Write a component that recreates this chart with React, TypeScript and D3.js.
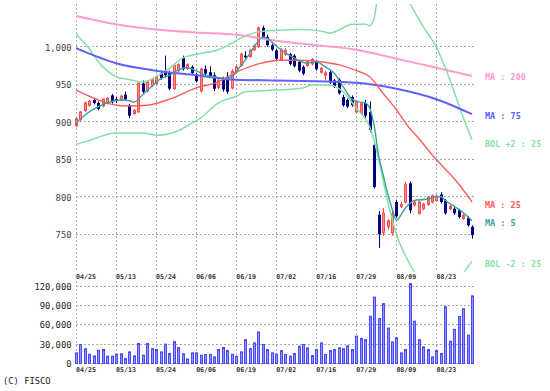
import React from 'react';
import * as d3 from 'd3';

// tick labels
const dateLabels = ['04/25', '05/13', '05/24', '06/06', '06/19', '07/02', '07/16', '07/29', '08/09', '08/23'];
const priceTicks = [750, 800, 850, 900, 950, 1000];
const volumeTicks = [0, 30000, 60000, 90000, 120000];

// daily candles (90 sessions)
const opens = [
  895, 903, 915, 922, 929, 925, 921, 925, 935, 930, 929, 936, 922, 911, 913, 951, 941, 948, 951, 965,
  968, 966, 944, 968, 985, 971, 973, 963, 941, 970, 966, 962, 946, 957, 960, 945, 966, 975, 988, 987,
  996, 1000, 1025, 1013, 1002, 995, 983, 990, 990, 988, 980, 973, 975, 977, 980, 966, 962, 966, 955, 956,
  933, 929, 933, 913, 911, 925, 913, 869, 776, 752, 760, 752, 793, 787, 793, 818, 789, 778, 784, 790,
  793, 795, 803, 795, 784, 784, 782, 771, 772, 760,
];
const highs = [
  906, 914, 927, 929, 931, 927, 931, 933, 937, 933, 936, 940, 924, 917, 953, 955, 955, 958, 962, 968,
  988, 968, 977, 978, 988, 978, 975, 965, 972, 975, 974, 966, 958, 960, 966, 970, 975, 992, 994, 997,
  1003, 1027, 1028, 1016, 1004, 997, 998, 998, 992, 990, 982, 975, 981, 985, 982, 973, 968, 968, 957, 958,
  936, 931, 935, 929, 926, 929, 927, 872, 781, 785, 770, 782, 796, 793, 820, 820, 795, 795, 792, 801,
  803, 803, 806, 797, 789, 786, 784, 778, 774, 762,
];
const lows = [
  893, 900, 913, 920, 923, 915, 919, 923, 924, 925, 927, 928, 905, 909, 912, 938, 939, 946, 949, 956,
  960, 942, 943, 966, 968, 969, 962, 952, 939, 962, 958, 941, 943, 940, 937, 943, 964, 973, 984, 985,
  994, 998, 1010, 1000, 994, 982, 981, 988, 975, 972, 966, 962, 973, 975, 968, 964, 955, 950, 945, 936,
  920, 918, 920, 911, 909, 905, 886, 811, 732, 748, 756, 748, 772, 785, 791, 778, 787, 776, 782, 788,
  791, 793, 791, 776, 782, 776, 771, 769, 760, 744,
];
const closes = [
  904, 913, 925, 927, 925, 917, 930, 931, 926, 928, 934, 930, 908, 915, 951, 940, 953, 956, 960, 958,
  962, 944, 975, 976, 970, 976, 965, 954, 970, 964, 960, 944, 955, 943, 940, 967, 973, 990, 986, 995,
  1001, 1025, 1012, 1002, 996, 984, 996, 995, 977, 974, 968, 964, 980, 983, 970, 971, 965, 952, 947, 938,
  922, 920, 922, 927, 924, 908, 889, 813, 750, 778, 768, 777, 774, 790, 816, 782, 793, 793, 790, 799,
  801, 801, 793, 778, 787, 778, 773, 775, 762, 749,
];
const volumes = [
  16500, 29500, 23000, 14400, 11800, 20600, 21700, 11300, 11300, 14400, 15000, 7700, 18000, 11800, 31000,
  12900, 31000, 23000, 21700, 18000, 30000, 15500, 34000, 24800, 15000, 7000, 16500, 16500, 12900, 14000,
  14000, 10200, 21700, 24800, 20000, 14400, 11300, 18000, 37000, 23000, 32000, 49000, 29500, 21700, 16500,
  14400, 20000, 14000, 11300, 15500, 26900, 29500, 24300, 12400, 21700, 32000, 14000, 20000, 21700, 24300,
  23000, 27400, 21700, 42400, 38800, 37000, 73400, 103000, 70000, 93000, 55000, 33500, 40000, 16500, 21700,
  124000, 65600, 37000, 25800, 21700, 10200, 20000, 15500, 88000, 34600, 53000, 73000, 85000, 44000, 105000,
];

// indicator lines, read at sample sessions
const ma200Idx = [0, 9, 18, 27, 36, 45, 54, 63, 72, 81, 89];
const ma200Val = [1041, 1030, 1023, 1019, 1016, 1008, 1002, 996, 984, 972, 961];

const ma75Idx = [0, 9, 18, 27, 36, 45, 54, 63, 72, 81, 89];
const ma75Val = [998, 978, 968, 962, 956, 955, 954, 952, 944, 930, 910];

const ma25Idx = [0, 5, 9, 12, 16, 21, 27, 32, 36, 41, 46, 50, 55, 59, 63, 66, 69, 72, 75, 77, 80, 82, 86, 89];
const ma25Val = [942, 929, 922, 921, 922, 930, 945, 953, 966, 977, 982, 982, 980, 976, 968, 960, 938, 916, 891, 878, 856, 843, 817, 793];

const ma5Idx = [0, 2, 5, 8, 10, 12, 13, 15, 17, 19, 21, 23, 25, 27, 29, 31, 34, 35, 37, 39, 41, 42, 43, 45, 47, 49,
  52, 54, 56, 58, 60, 62, 64, 65, 66, 67, 68, 69, 70, 71, 72, 74, 76, 79, 81, 82, 83, 85, 87, 89];
const ma5Val = [898, 909, 920, 927, 929, 928, 926, 936, 947, 957, 962, 969, 972, 968, 962, 960, 958, 960, 974, 990,
  1008, 1013, 1011, 1001, 992, 985, 978, 980, 973, 965, 947, 930, 926, 925, 918, 895, 855, 830, 805, 785, 769,
  785, 795, 797, 800, 800, 795, 787, 779, 768];

const bolUpIdx = [0, 3, 5, 7, 9, 12, 15, 18, 21, 24, 27, 32, 38, 41, 46, 50, 55, 57, 59, 62, 65, 66, 67, 68, 69, 71,
  73, 75, 78, 81, 84, 87, 89];
const bolUpVal = [1017, 997, 980, 968, 960, 956, 953, 960, 971, 985, 990, 996, 1014, 1020, 1022, 1023, 1021, 1018,
  1022, 1030, 1030, 1028, 1038, 1075, 1088, 1095, 1080, 1058, 1027, 999, 956, 906, 876];

const bolLoIdx = [0, 3, 9, 15, 18, 21, 23, 26, 28, 32, 36, 38, 44, 51, 53, 57, 60, 63, 66, 67, 68, 70, 72, 74, 76,
  79, 83, 86, 88, 89];
const bolLoVal = [870, 875, 885, 885, 882, 884, 888, 898, 905, 925, 934, 940, 942, 945, 949, 949, 940, 918, 893, 875,
  850, 795, 750, 722, 700, 680, 672, 688, 706, 714];

const W = 550;
const H = 391;
const FONT = '"DejaVu Sans Mono", monospace';

const App = () => {
  const n = closes.length;
  const x = d3.scaleLinear().domain([0, n - 1]).range([76, 76 + (n - 1) * 4.45]);
  const y = d3.scaleLinear().domain([700, 1057]).range([271.8, 3.9]);
  const yv = d3.scaleLinear().domain([0, 120000]).range([363.5, 286.2]);
  const left = 76;
  const right = 476;
  const snap = (v: number) => Math.floor(v) + 0.5;

  const path = (idx: number[], val: number[]) =>
    d3.line<number>()
      .x((_, i) => x(idx[i]))
      .y(d => y(d))
      .curve(d3.curveMonotoneX)(val) || '';

  const series = [
    { idx: bolUpIdx, val: bolUpVal, color: '#86e0a4', w: 1.5, label: 'BOL +2 : 25', dy: 5 },
    { idx: bolLoIdx, val: bolLoVal, color: '#86e0a4', w: 1.5, label: 'BOL -2 : 25', dy: 3 },
    { idx: ma200Idx, val: ma200Val, color: '#ff9ccc', w: 2, label: 'MA : 200', dy: 2 },
    { idx: ma75Idx, val: ma75Val, color: '#6060ff', w: 2, label: 'MA : 75', dy: 2 },
    { idx: ma25Idx, val: ma25Val, color: '#ff5c5c', w: 1.4, label: 'MA : 25', dy: 3 },
    { idx: ma5Idx, val: ma5Val, color: '#3f9f9f', w: 1.4, label: 'MA : 5', dy: 3 },
  ];

  const gridIdx = dateLabels.map((_, k) => k * 9);
  const dotted = { stroke: '#a8a8a8', strokeWidth: 1, strokeDasharray: '2,2' };

  return (
    <svg width={W} height={H} style={{ position: 'absolute', left: 0, top: 0, background: '#fff' }}>
      <defs>
        <clipPath id="plot">
          <rect x={left - 3} y={3.9} width={right - left + 3} height={271.8 - 3.9} />
        </clipPath>
      </defs>

      {/* price grid */}
      {priceTicks.map(t => (
        <g key={'p' + t}>
          <line x1={left} x2={right} y1={snap(y(t))} y2={snap(y(t))} {...dotted} />
          <text x={71.5} y={y(t) + 1.5} textAnchor="end" dominantBaseline="middle"
            fontFamily={FONT} fontSize={8.8} fill="#444">{d3.format(',')(t)}</text>
        </g>
      ))}
      {gridIdx.map(i => (
        <line key={'v' + i} x1={snap(x(i))} x2={snap(x(i))} y1={4} y2={271} {...dotted} />
      ))}

      {/* candles */}
      {closes.map((c, i) => {
        const o = opens[i];
        const cx = Math.round(x(i));
        const up = c >= o;
        const top = y(Math.max(o, c));
        const bot = y(Math.min(o, c));
        const h = Math.max(1, bot - top);
        return (
          <g key={'c' + i}>
            <line x1={cx + 0.5} x2={cx + 0.5} y1={y(highs[i])} y2={y(lows[i])}
              stroke={up ? '#ff4d4d' : '#000080'} strokeWidth={1} />
            {up ? (
              <rect x={cx - 0.5} y={top} width={2} height={h} fill="#ff8c8c" stroke="#ff4d4d" strokeWidth={1} />
            ) : (
              <rect x={cx - 1} y={top} width={3} height={h} fill="#000080" />
            )}
          </g>
        );
      })}

      {/* indicator lines */}
      <g clipPath="url(#plot)">
        {series.map(s => (
          <path key={s.label} d={path(s.idx, s.val)} fill="none" stroke={s.color} strokeWidth={s.w} />
        ))}
      </g>
      {series.map(s => (
        <text key={'l' + s.label} x={485} y={y(s.val[s.val.length - 1]) + s.dy} dominantBaseline="middle"
          fontFamily={FONT} fontSize={8.5} fontWeight="bold" fill={s.color}>{s.label}</text>
      ))}

      {/* date labels above and below the volume panel */}
      {gridIdx.map((i, k) => (
        <g key={'d' + i}>
          <text x={x(i)} y={277} dominantBaseline="middle" fontFamily={FONT} fontSize={6.6}
            fontWeight="bold" fill="#333">{dateLabels[k]}</text>
          <text x={x(i)} y={370} dominantBaseline="middle" fontFamily={FONT} fontSize={6.6}
            fontWeight="bold" fill="#333">{dateLabels[k]}</text>
        </g>
      ))}

      {/* volume grid */}
      {volumeTicks.map(t => (
        <g key={'vt' + t}>
          <line x1={left} x2={right} y1={snap(yv(t))} y2={snap(yv(t))} {...dotted} />
          <text x={71.5} y={yv(t) + 1} textAnchor="end" dominantBaseline="middle"
            fontFamily={FONT} fontSize={8.8} fill="#222">{d3.format(',')(t)}</text>
        </g>
      ))}
      {gridIdx.map(i => (
        <line key={'vv' + i} x1={snap(x(i))} x2={snap(x(i))} y1={281} y2={364} {...dotted} />
      ))}

      {/* volume bars */}
      {volumes.map((v, i) => {
        const cx = Math.round(x(i));
        return (
          <rect key={'b' + i} x={cx - 0.5} y={yv(v)} width={2} height={yv(0) - yv(v)}
            fill="#9494ff" stroke="#4848ff" strokeWidth={1} />
        );
      })}

      <text x={3} y={381} dominantBaseline="middle" fontFamily={FONT} fontSize={8.8} fill="#222">(C) FISCO</text>
    </svg>
  );
};

export default App;
